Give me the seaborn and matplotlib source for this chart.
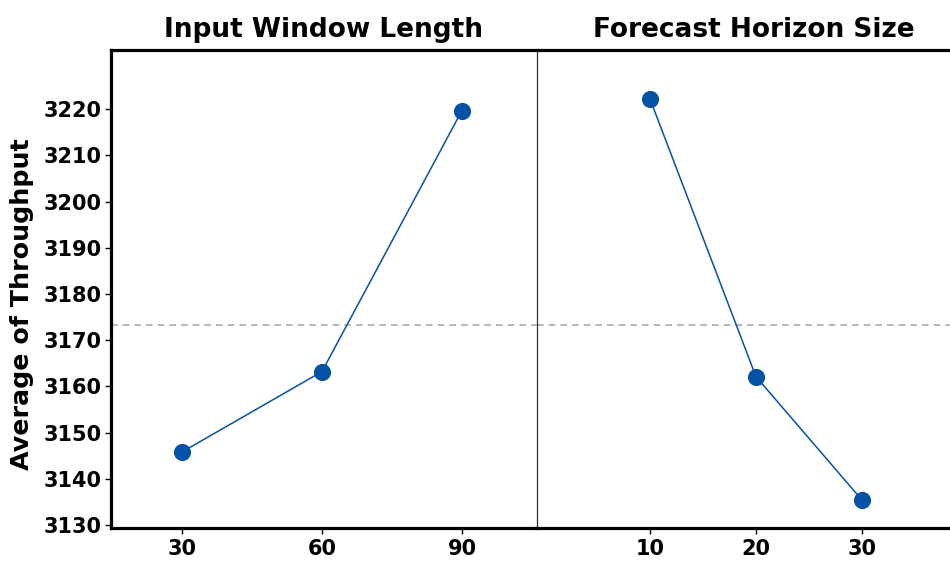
import matplotlib
matplotlib.use("Agg")
import matplotlib.pyplot as plt
import seaborn as sns
import pandas as pd

# ---- data ----
window_levels = ["30", "60", "90"]
window_means = [3145.8, 3163.2, 3219.7]
horizon_levels = ["10", "20", "30"]
horizon_means = [3222.2, 3162.1, 3135.4]
overall_mean = 3173.3
panel_titles = ["Input Window Length", "Forecast Horizon Size"]
y_label = "Average of Throughput"
y_ticks = [3130, 3140, 3150, 3160, 3170, 3180, 3190, 3200, 3210, 3220]

sns.set_theme(style="white")
plt.rcParams["font.family"] = ["DejaVu Sans"]
plt.rcParams["text.color"] = "black"
plt.rcParams["xtick.color"] = "black"
plt.rcParams["ytick.color"] = "black"
plt.rcParams["axes.labelcolor"] = "black"

W, H = 950, 562
fig = plt.figure(figsize=(W / 100, H / 100), dpi=100)

def frac(x0, y0, x1, y1):
    return [x0 / W, 1 - y1 / H, (x1 - x0) / W, (y1 - y0) / H]

ax1 = fig.add_axes(frac(111, 50, 537, 528))
ax2 = fig.add_axes(frac(537, 50, 963, 528))

blue = "#0452A6"
df1 = pd.DataFrame({"level": window_levels, "mean": window_means})
df2 = pd.DataFrame({"level": horizon_levels, "mean": horizon_means})

for ax, df in ((ax1, df1), (ax2, df2)):
    sns.pointplot(data=df, x="level", y="mean", ax=ax, color=blue,
                  markers="o", markersize=11.5, linewidth=1.1,
                  errorbar=None)
    ax.axhline(overall_mean, color="#aaaaaa", lw=1.2, ls=(0, (4, 3)), zorder=0)
    ax.set_ylim(3129.35, 3232.8)
    ax.set_yticks(y_ticks)
    ax.set_xlabel("")
    ax.set_ylabel("")
    ax.tick_params(axis="both", direction="out", length=4, width=1.0,
                   color="black", labelcolor="black", labelsize=15, pad=3)
    for lab in ax.get_xticklabels() + ax.get_yticklabels():
        lab.set_fontweight("bold")
    ax.grid(False)

ax1.set_xlim(-0.507, 2.536)
ax2.set_xlim(-1.066, 2.953)

ax1.tick_params(axis="y", left=True)
ax2.tick_params(axis="y", left=False, labelleft=False)
ax1.tick_params(axis="x", bottom=True, pad=4)
ax2.tick_params(axis="x", bottom=True, pad=4)

for name in ("left", "bottom", "top"):
    ax1.spines[name].set_linewidth(2.3)
    ax1.spines[name].set_color("black")
ax1.spines["right"].set_visible(False)

for name in ("bottom", "top"):
    ax2.spines[name].set_linewidth(2.3)
    ax2.spines[name].set_color("black")
ax2.spines["left"].set_linewidth(0.9)
ax2.spines["left"].set_color("#333333")
ax2.spines["right"].set_visible(False)

ax1.set_title(panel_titles[0], fontsize=19, fontweight="bold", pad=9.5, color="black")
ax2.set_title(panel_titles[1], fontsize=19, fontweight="bold", pad=9.5, color="black")
ax2.title.set_x((754 - 537) / 426)

fig.text(22 / W, 1 - 304 / H, y_label, rotation=90, ha="center", va="center",
         fontsize=18.3, fontweight="bold", color="black")

fig.savefig("out.png", dpi=100)
